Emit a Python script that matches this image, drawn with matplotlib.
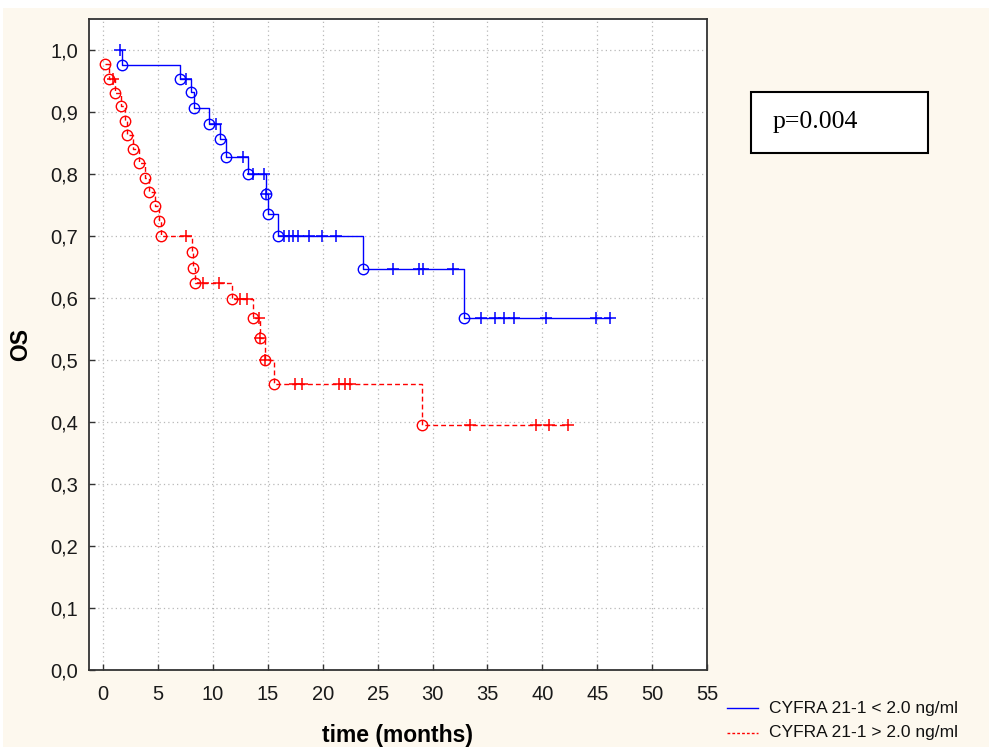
import matplotlib
matplotlib.use("Agg")
import matplotlib.pyplot as plt
from matplotlib.lines import Line2D
from matplotlib.patches import Rectangle
from matplotlib.ticker import FuncFormatter

# CYFRA 21-1 < 2.0 ng/ml (blue)
blue_event_t = [1.7, 7.0, 8.0, 8.3, 9.6, 10.6, 11.2, 13.2, 14.8, 15.0, 15.9, 23.7, 32.9]
blue_event_s = [0.976, 0.954, 0.932, 0.906, 0.881, 0.856, 0.828, 0.800, 0.768, 0.736, 0.700, 0.646, 0.567]
blue_cens_t = [1.5, 7.5, 10.3, 12.7, 13.6, 14.6, 14.8, 16.5, 16.9, 17.3, 17.7, 18.75,
               19.9, 21.2, 26.4, 28.8, 29.1, 31.85, 34.4, 35.7, 36.5, 37.4, 40.3, 44.9, 46.2]

# CYFRA 21-1 > 2.0 ng/ml (red)
red_event_t = [0.15, 0.5, 1.1, 1.6, 2.0, 2.2, 2.7, 3.3, 3.8, 4.2, 4.7, 5.1, 5.3,
               8.1, 8.2, 8.4, 11.75, 13.6, 14.3, 14.7, 15.55, 29.0]
red_event_s = [0.977, 0.954, 0.931, 0.909, 0.886, 0.863, 0.840, 0.817, 0.794, 0.771, 0.748, 0.725, 0.700,
               0.674, 0.648, 0.625, 0.598, 0.567, 0.535, 0.500, 0.461, 0.395]
red_cens_t = [0.9, 7.55, 9.05, 10.5, 12.45, 13.06, 14.2, 14.3, 14.7, 17.45, 18.1,
              21.5, 22.0, 22.5, 33.4, 39.4, 40.6, 42.3]

labels = ["CYFRA 21-1 < 2.0 ng/ml", "CYFRA 21-1 > 2.0 ng/ml"]
p_text = "p=0.004"

BG = "#fdf8ee"


def surv_at(t, ev_t, ev_s):
    s = 1.0
    for te, se in zip(ev_t, ev_s):
        if te <= t:
            s = se
    return s


def step_xy(ev_t, ev_s, cens_t):
    t0 = min(ev_t[0], min(cens_t))
    t_end = max(ev_t[-1], max(cens_t))
    xs = [t0]
    ys = [surv_at(t0, ev_t, ev_s)]
    prev = ys[0]
    for te, se in zip(ev_t, ev_s):
        if te <= t0:
            continue
        xs += [te, te]
        ys += [prev, se]
        prev = se
    xs.append(t_end)
    ys.append(prev)
    return xs, ys


plt.rcParams["font.family"] = ["Liberation Sans", "DejaVu Sans"]

fig = plt.figure(figsize=(9.89, 7.47), dpi=100, facecolor="white")
# cream background, thin white strip on top and left like the screenshot
fig.add_artist(Rectangle((3 / 989, -0.02), 1, 1.02 - 8 / 747, transform=fig.transFigure,
                         facecolor=BG, edgecolor="none", zorder=-10))

ax = fig.add_axes([89 / 989, 77 / 747, 618 / 989, 651 / 747])
ax.set_facecolor("white")

for ev_t, ev_s, cens_t, color, ls in [
    (blue_event_t, blue_event_s, blue_cens_t, "#0000ff", "-"),
    (red_event_t, red_event_s, red_cens_t, "#ff0000", (0, (3.5, 2.2))),
]:
    xs, ys = step_xy(ev_t, ev_s, cens_t)
    ax.plot(xs, ys, color=color, lw=1.0, ls=ls, zorder=3)
    ax.plot(ev_t, ev_s, "o", ms=7.5, mfc="none", mec=color, mew=1.0, zorder=4)
    cs = [surv_at(t, ev_t, ev_s) for t in cens_t]
    ax.plot(cens_t, cs, "+", ms=9, mec=color, mew=1.1, zorder=4)

ax.set_xlim(-1.3, 55.0)
ax.set_ylim(0, 1.05)
ax.set_xticks(range(0, 56, 5))
ax.set_yticks([i / 10 for i in range(11)])
ax.yaxis.set_major_formatter(FuncFormatter(lambda v, p: f"{v:.1f}".replace(".", ",")))
ax.grid(True, color="#b8b8b8", ls=(0, (1, 2.5)), lw=0.9)
ax.set_axisbelow(True)

ax.tick_params(axis="both", direction="in", length=4, width=1, color="#333333",
               labelsize=14.5, labelcolor="#1a1a1a")
ax.tick_params(axis="x", pad=11)
ax.tick_params(axis="y", pad=8)
for sp in ax.spines.values():
    sp.set_color("#333333")
    sp.set_linewidth(1.3)

ax.set_xlabel("time (months)", fontsize=16.5, fontweight="bold", labelpad=14)
ax.set_ylabel("OS", fontsize=16.5, fontweight="bold", labelpad=13)

# p-value box
fig.add_artist(Rectangle((751 / 989, 1 - 153 / 747), 177 / 989, 61 / 747, transform=fig.transFigure,
                         facecolor="white", edgecolor="black", lw=1.5))
fig.text(773 / 989, 1 - 122 / 747, p_text, fontsize=18.5, family="Liberation Serif",
         va="center", ha="left")

# legend
for i, (lab, color, ls) in enumerate(zip(labels, ["#0000ff", "#ff0000"], ["-", (0, (2, 1.5))])):
    y = 1 - (708 + 25 * i) / 747
    fig.add_artist(Line2D([727 / 989, 758 / 989], [y, y], transform=fig.transFigure,
                          color=color, lw=1.0, ls=ls))
    fig.text(769 / 989, y, lab, fontsize=12.5, va="center", ha="left", color="#111111")

fig.savefig("out.png", dpi=100, facecolor=fig.get_facecolor())
